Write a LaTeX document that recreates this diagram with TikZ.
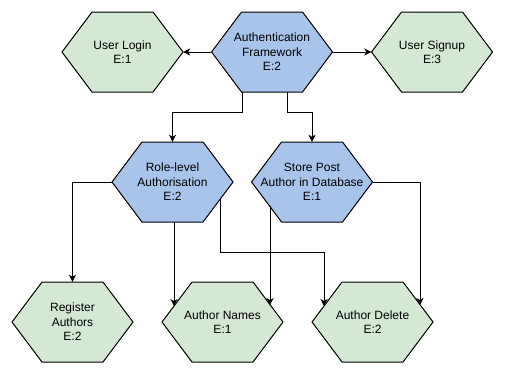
\documentclass[tikz,border=0pt]{standalone}
\usepackage{fontspec}
\setmainfont{Liberation Sans}
\usetikzlibrary{arrows.meta,calc}
\definecolor{hexgreen}{HTML}{D5E8D4}
\definecolor{hexblue}{HTML}{A9C4EB}
\tikzset{
  hexlabel/.style={rectangle, draw=none, minimum width=121pt, minimum height=80pt, inner sep=0pt, align=center, font=\fontsize{12}{14.5}\selectfont},
  hexline/.style={draw=black, line width=1pt, line join=miter},
  conn/.style={draw=black, line width=1pt, -{Stealth[length=7pt,width=7pt,inset=2pt]}},
}
\newcommand\hexnode[4]{%
  \draw[hexline, fill=#3] ($(#2)+(-60.5,0)$) -- ++(30,-40) -- ++(61,0) -- ++(30,40) -- ++(-30,40) -- ++(-61,0) -- cycle;
  \node[hexlabel] (#1) at (#2) {#4};
}
\begin{document}
\begin{tikzpicture}[x=1pt,y=-1pt]
\useasboundingbox (0,0) rectangle (505,375);
\hexnode{login}{122.5,52}{hexgreen}{User Login\\E:1}
\hexnode{auth}{272,52}{hexblue}{Authentication\\Framework\\E:2}
\hexnode{signup}{432,52}{hexgreen}{User Signup\\E:3}
\hexnode{role}{172.5,182}{hexblue}{Role-level\\Authorisation\\E:2}
\hexnode{store}{312,182}{hexblue}{Store Post\\Author in Database\\E:1}
\hexnode{reg}{72.5,322}{hexgreen}{Register\\Authors\\E:2}
\hexnode{names}{222.5,322}{hexgreen}{Author Names\\E:1}
\hexnode{del}{372.5,322}{hexgreen}{Author Delete\\E:2}

\coordinate (namesL) at ($(names.center)+(-48.5,-16)$);
\coordinate (namesR) at ($(names.center)+(47.5,-17)$);
\coordinate (delL) at ($(del.center)+(-48.5,-16)$);
\coordinate (delR) at ($(del.center)+(47.5,-17)$);
\coordinate (roleB) at ($(role.south)+(1.5,0)$);
\coordinate (roleR) at ($(role.center)+(47.5,17)$);
\coordinate (storeL) at ($(store.center)+(-42,24)$);

\draw[conn] (auth.west) -- (login.east);
\draw[conn] (auth.east) -- (signup.west);
\draw[conn] ([xshift=-30pt]auth.south) -- ++(0,20) -| (role.north);
\draw[conn] ([xshift=15pt]auth.south) -- ++(0,20) -| (store.north);
\draw[conn] (role.west) -| (reg.north);
\draw[conn] (roleB) -- (namesL);
\draw[conn] (roleR) -- ++(0,53) -| (delL);
\draw[conn] (storeL) -- (namesR);
\draw[conn] (store.east) -| (delR);
\end{tikzpicture}
\end{document}
